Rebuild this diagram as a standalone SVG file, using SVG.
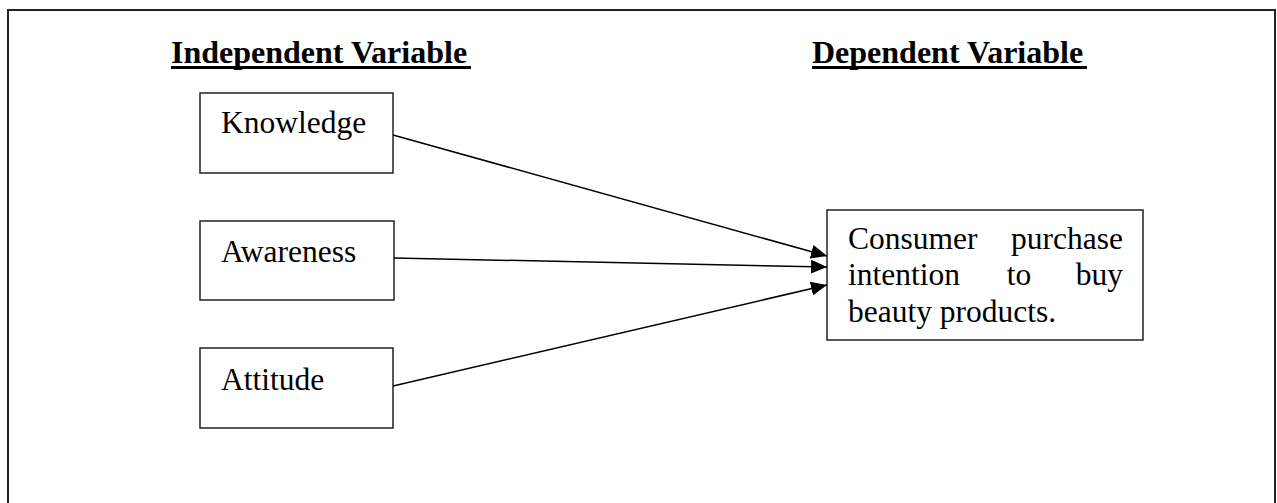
<svg xmlns="http://www.w3.org/2000/svg" width="1277" height="503" viewBox="0 0 1277 503">
  <style>
    .frame { fill: none; stroke: #222; stroke-width: 2; }
    .box { fill: #fff; stroke: #222; stroke-width: 1.5; }
    .txt { font-family: "Liberation Serif", "Times New Roman", serif; font-size: 31.5px; fill: #000; }
    .head { font-family: "Liberation Serif", "Times New Roman", serif; font-size: 32px; font-weight: bold; fill: #000; }
    .uline { stroke: #000; stroke-width: 3; }
    .link { stroke: #000; stroke-width: 1.5; fill: none; marker-end: url(#arrow); }
  </style>
  <defs>
    <marker id="arrow" markerUnits="userSpaceOnUse" markerWidth="16" markerHeight="14" refX="16" refY="7" orient="auto">
      <path d="M0,0 L16,7 L0,14 Z" fill="#000"/>
    </marker>
  </defs>

  <rect width="1277" height="503" fill="#fff"/>
  <!-- outer frame, open at the bottom -->
  <rect class="frame" x="8" y="10" width="1267" height="520"/>

  <!-- column headings -->
  <g id="heading-independent">
    <text class="head" x="171" y="63">Independent Variable</text>
    <line class="uline" x1="171" y1="67.5" x2="471" y2="67.5"/>
  </g>
  <g id="heading-dependent">
    <text class="head" x="812" y="63">Dependent Variable</text>
    <line class="uline" x1="812" y1="67.5" x2="1087" y2="67.5"/>
  </g>

  <!-- independent variables -->
  <g id="knowledge">
    <rect class="box" x="200" y="93" width="193" height="80"/>
    <text class="txt" x="221" y="133">Knowledge</text>
  </g>
  <g id="awareness">
    <rect class="box" x="200" y="221" width="194" height="79"/>
    <text class="txt" x="221" y="262">Awareness</text>
  </g>
  <g id="attitude">
    <rect class="box" x="200" y="348" width="193" height="80"/>
    <text class="txt" x="221" y="390">Attitude</text>
  </g>

  <!-- dependent variable -->
  <g id="purchase-intention">
    <rect class="box" x="827" y="210" width="316" height="130"/>
    <text class="txt" x="848" y="249">Consumer</text>
    <text class="txt" x="1123" y="249" text-anchor="end">purchase</text>
    <text class="txt" x="848" y="285">intention</text>
    <text class="txt" x="1019" y="285" text-anchor="middle">to</text>
    <text class="txt" x="1123" y="285" text-anchor="end">buy</text>
    <text class="txt" x="848" y="322">beauty products.</text>
  </g>

  <!-- connectors -->
  <g id="connectors">
    <line class="link" x1="393" y1="135" x2="827" y2="256"/>
    <line class="link" x1="394" y1="258" x2="827" y2="267"/>
    <line class="link" x1="393" y1="386" x2="827" y2="285"/>
  </g>
</svg>
